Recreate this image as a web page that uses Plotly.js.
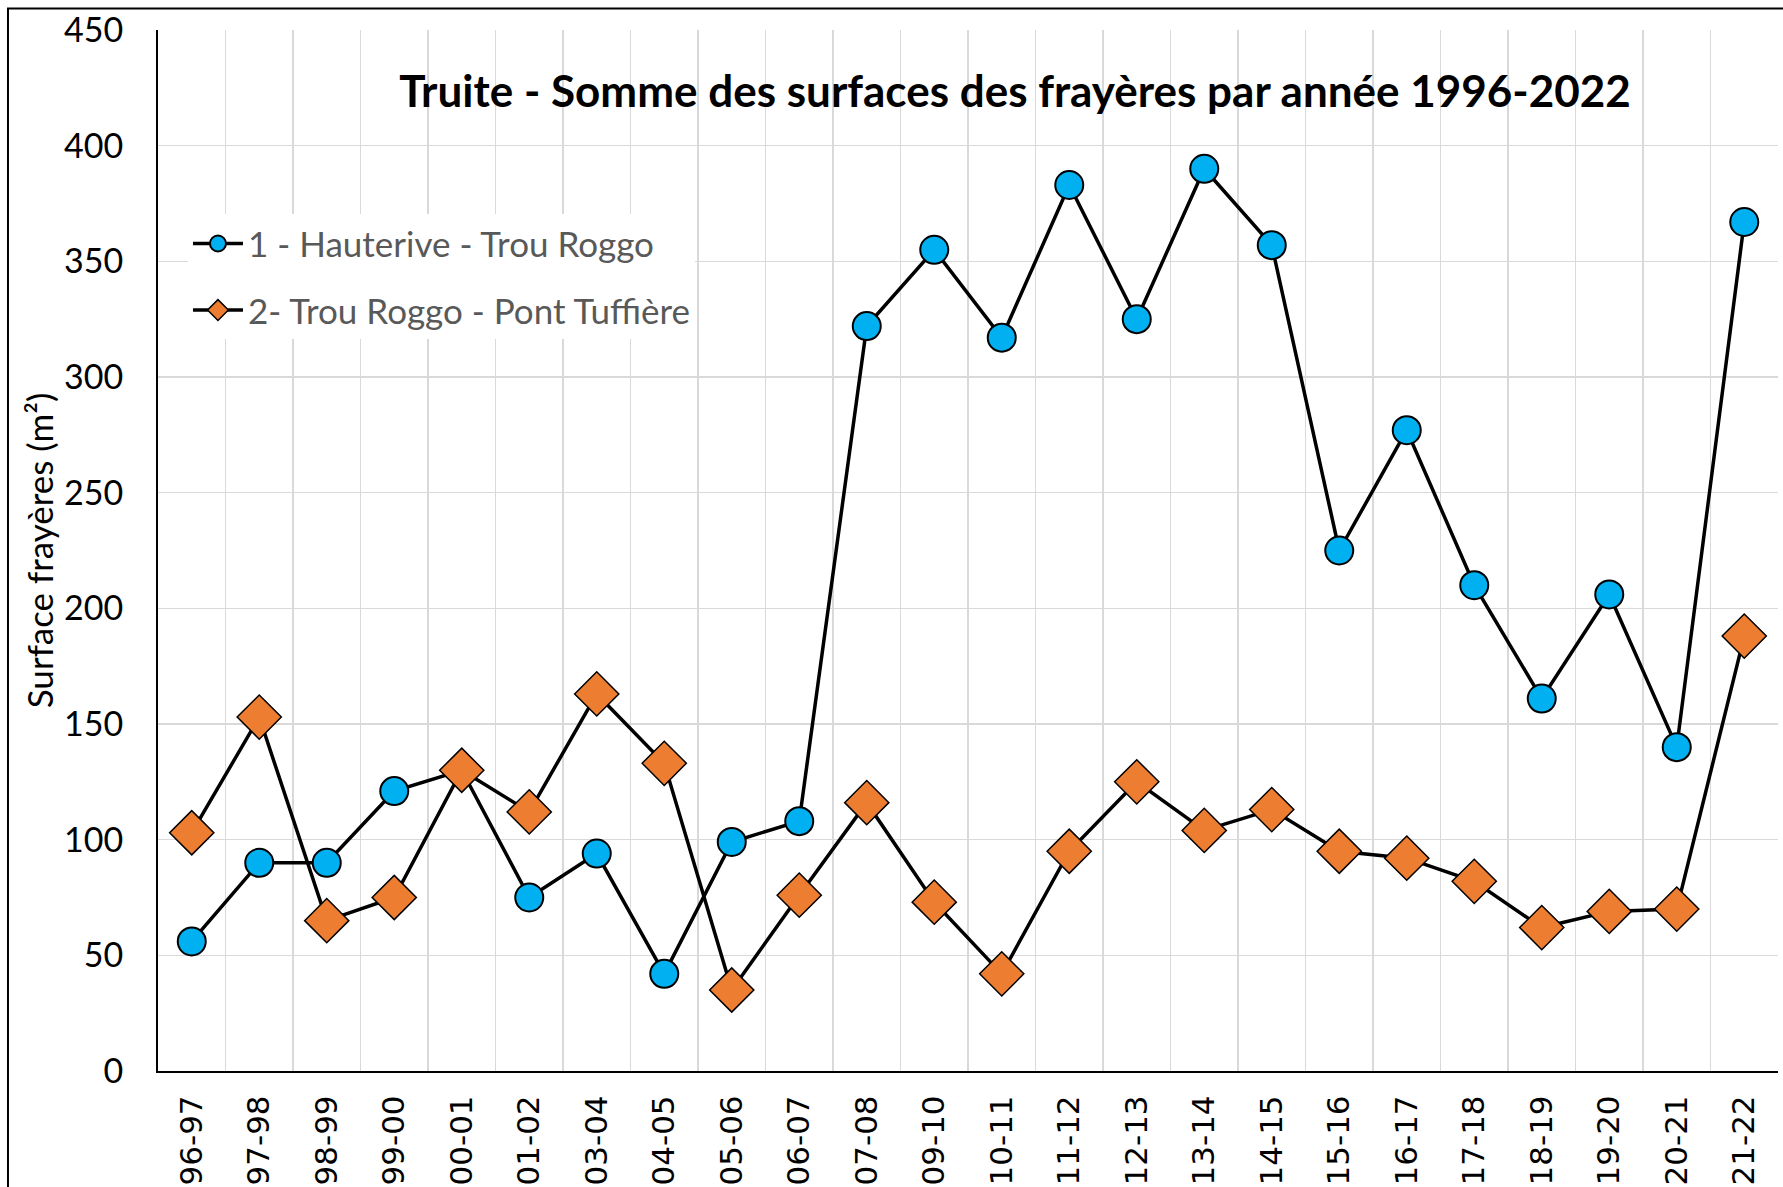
<!DOCTYPE html>
<html><head><meta charset="utf-8">
<script src="https://cdn.plot.ly/plotly-3.0.1.min.js"></script>
<style>html,body{margin:0;padding:0;background:#fff;overflow:hidden}</style>
</head><body>
<div id="chart" style="width:1783px;height:1187px"></div>
<script>
const categories = ["96-97","97-98","98-99","99-00","00-01","01-02","03-04","04-05","05-06","06-07","07-08","09-10","10-11","11-12","12-13","13-14","14-15","15-16","16-17","17-18","18-19","19-20","20-21","21-22"];
const hauterive = [56, 90, 90, 121, 130, 75, 94, 42, 99, 108, 322, 355, 317, 383, 325, 390, 357, 225, 277, 210, 161, 206, 140, 367];
const pontTuffiere = [103, 153, 65, 75, 130, 112, 163, 133, 35, 76, 116, 73, 42, 95, 125, 104, 113, 95, 92, 82, 62, 69, 70, 188];
const seriesNames = ["1 - Hauterive - Trou Roggo", "2- Trou Roggo - Pont Tuffière"];
const chartTitle = "Truite - Somme des surfaces des frayères par année 1996-2022";
const yTitle = "Surface frayères (m²)";

const traces = [
  {
    x: categories, y: hauterive, name: seriesNames[0], type: "scatter", mode: "lines+markers",
    legendgroup: "a",
    line: {color: "#000000", width: 3.5},
    marker: {symbol: "circle", size: 28, color: "#00B0F0", line: {color: "#000000", width: 2}}
  },
  {
    x: categories, y: pontTuffiere, name: seriesNames[1], type: "scatter", mode: "lines+markers",
    legendgroup: "b",
    line: {color: "#000000", width: 3.5},
    marker: {symbol: "diamond", size: 34, color: "#ED7D31", line: {color: "#000000", width: 1.5}}
  }
];

const layout = {
  width: 1783, height: 1187,
  paper_bgcolor: "#ffffff", plot_bgcolor: "#ffffff",
  margin: {l: 158, r: 5, t: 30, b: 116},
  showlegend: true,
  title: {
    text: "<b>" + chartTitle + "</b>",
    font: {family: "Lato, sans-serif", size: 44, color: "#000000"},
    xref: "paper", yref: "paper", x: 0.529, y: 0.941, xanchor: "center", yanchor: "middle"
  },
  legend: {
    x: 0.0185, y: 0.823, xanchor: "left", yanchor: "top",
    bgcolor: "#ffffff", borderwidth: 0,
    font: {family: "Lato, sans-serif", size: 35, color: "#595959"},
    traceorder: "grouped", tracegroupgap: 18,
    itemwidth: 50
  },
  xaxis: {
    type: "category",
    range: [-0.5, categories.length - 0.5],
    tickson: "boundaries",
    showgrid: true, gridcolor: "#d9d9d9", gridwidth: 1.5,
    showline: true, linecolor: "#000000", linewidth: 2,
    ticks: "", tickangle: -90,
    ticklabelstandoff: 10,
    tickfont: {family: "DejaVu Sans, sans-serif", size: 31, color: "#000000"},
    automargin: false
  },
  yaxis: {
    range: [0, 450], dtick: 50, tick0: 0,
    showgrid: true, gridcolor: "#d9d9d9", gridwidth: 1.5,
    zeroline: false,
    showline: true, linecolor: "#000000", linewidth: 2,
    ticks: "", ticklabelstandoff: 26,
    tickfont: {family: "Lato, sans-serif", size: 34, color: "#000000"},
    title: {text: yTitle, font: {family: "Lato, sans-serif", size: 35, color: "#000000"}, standoff: 0},
    automargin: false
  },
  shapes: [
    {type: "rect", xref: "paper", yref: "paper", x0: -0.0926, x1: 1.2, y0: -0.5, y1: 1.0207,
     line: {color: "#000000", width: 2}, fillcolor: "rgba(0,0,0,0)", layer: "above"}
  ]
};

Plotly.newPlot("chart", traces, layout, {displayModeBar: false, staticPlot: true});
</script>
</body></html>
